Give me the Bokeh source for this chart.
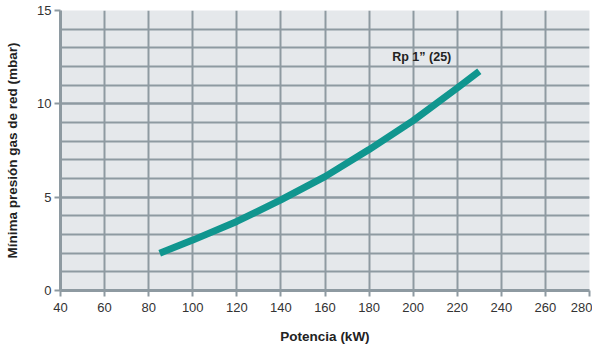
from bokeh.plotting import figure
from bokeh.models import FixedTicker, Label, Range1d
from bokeh.embed import file_html
from bokeh.resources import INLINE

# Data
potencia_kw = [85, 100, 120, 140, 160, 180, 200, 220, 230]
presion_mbar = [2.0, 2.7, 3.7, 4.85, 6.1, 7.55, 9.1, 10.85, 11.75]
x_ticks = [40, 60, 80, 100, 120, 140, 160, 180, 200, 220, 240, 260, 280]
y_ticks = [0, 5, 10, 15]
y_minor = list(range(0, 16))
series_label = "Rp 1\u201d (25)"

GRID = "#8e9aa1"
p = figure(width=592, height=346, output_backend="svg", toolbar_location=None,
           x_range=Range1d(40, 280), y_range=Range1d(0, 15),
           min_border_left=60, min_border_right=3, min_border_top=10, min_border_bottom=50)
p.background_fill_color = "#e5e8eb"
p.border_fill_color = "white"
p.outline_line_color = None

p.xaxis.ticker = FixedTicker(ticks=x_ticks)
p.yaxis.ticker = FixedTicker(ticks=y_ticks, minor_ticks=y_minor)

for g in (p.xgrid, p.ygrid):
    g.grid_line_color = GRID
    g.grid_line_width = 2
p.ygrid.minor_grid_line_color = GRID
p.ygrid.minor_grid_line_width = 2

for ax in (p.xaxis, p.yaxis):
    ax.axis_line_color = GRID
    ax.axis_line_width = 3
    ax.major_tick_line_color = GRID
    ax.major_tick_line_width = 2
    ax.major_tick_in = 0
    ax.major_tick_out = 6
    ax.minor_tick_line_color = None
    ax.major_label_text_font = "Liberation Sans"
    ax.major_label_text_font_size = "13px"
    ax.major_label_text_color = "#333333"
    ax.axis_label_text_font = "Liberation Sans"
    ax.axis_label_text_font_style = "bold"
    ax.axis_label_text_font_size = "13.5px"
    ax.axis_label_text_color = "#222222"

p.xaxis.major_label_standoff = 6
p.yaxis.major_label_standoff = 3
p.xaxis.axis_label = "Potencia (kW)"
p.yaxis.axis_label = "Mínima presión gas de red (mbar)"
p.xaxis.axis_label_standoff = 14
p.yaxis.axis_label_standoff = 14

p.line(potencia_kw, presion_mbar, line_color="#10968f", line_width=7, line_cap="butt")

p.add_layout(Label(x=190.5, y=12.5, text=series_label, text_font="Liberation Sans",
                   text_font_style="bold", text_font_size="12.5px", text_color="#222222",
                   text_baseline="middle"))

open("out.html", "w").write(file_html(p, INLINE))
